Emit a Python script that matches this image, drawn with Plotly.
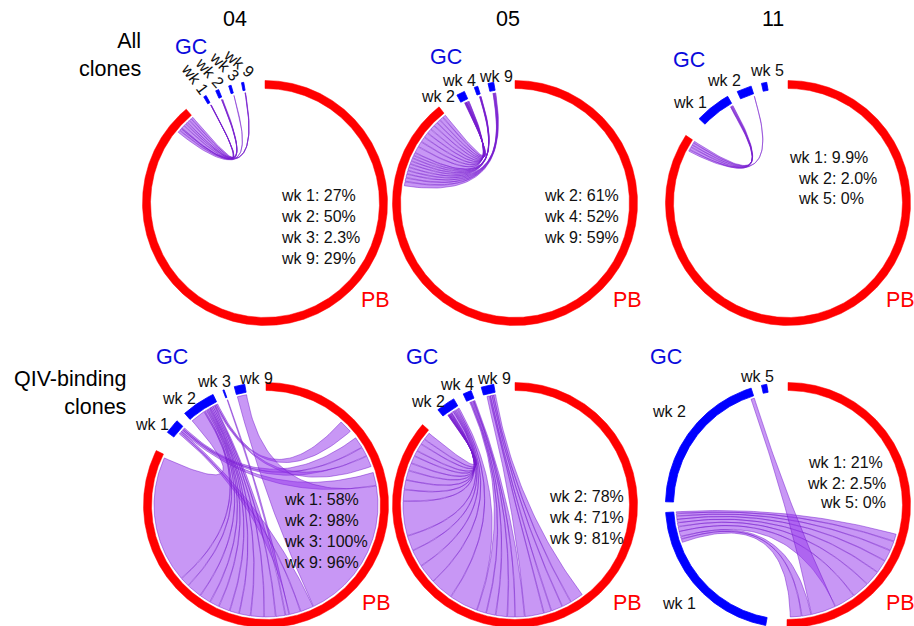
import numpy as np
import plotly.graph_objects as go

# ---------------- data ----------------
# Sector sizes: plasmablast (PB) clones and germinal-centre (GC) clones per week.
# *_pct: share of each GC week's clones that are also found among PB clones.
# *_link_week / *_link_pb: PB clones in circle order with their GC partner week
# ("" = PB clones with no GC partner).

all04_pb = 3008
all04_weeks = ["wk 1", "wk 2", "wk 3", "wk 9"]
all04_gc = [12, 14, 11, 10]
all04_pct = [27, 50, 2.3, 29]
all04_link_week = ["", "wk 9", "wk 9", "wk 3", "wk 2", "wk 2", "wk 2", "wk 1", "wk 1", "wk 1"]
all04_link_pb = [2905, 14, 10, 4, 16, 12, 10, 14, 12, 11]

all05_pb = 3217
all05_weeks = ["wk 2", "wk 4", "wk 9"]
all05_gc = [39, 17, 27]
all05_pct = [61, 52, 59]
all05_link_week = ["",
                   "wk 9", "wk 9", "wk 9", "wk 9", "wk 9",
                   "wk 4", "wk 4", "wk 4", "wk 4", "wk 4",
                   "wk 2", "wk 2", "wk 2", "wk 2", "wk 2",
                   "wk 2", "wk 2", "wk 2", "wk 2", "wk 2"]
all05_link_pb = [2787,
                 24, 20, 20, 18, 18,
                 18, 16, 16, 15, 15,
                 35, 30, 28, 27, 25, 25, 22, 20, 20, 18]

all11_pb = 1214
all11_weeks = ["wk 1", "wk 2", "wk 5"]
all11_gc = [68, 28, 10]
all11_pct = [9.9, 2.0, 0]
all11_link_week = ["", "wk 2", "wk 1", "wk 1", "wk 1", "wk 1"]
all11_link_pb = [1190, 4, 6, 5, 5, 4]

qiv04_pb = 2964
qiv04_weeks = ["wk 1", "wk 2", "wk 3", "wk 9"]
qiv04_gc = [70, 160, 6, 50]
qiv04_pct = [58, 98, 100, 96]
qiv04_link_week = ["", "wk 2", "", "wk 1", "wk 1", "wk 2", "", "wk 1",
                   "wk 9",
                   "wk 1", "wk 1", "wk 3",
                   "wk 2", "wk 2", "wk 2", "wk 2", "wk 2",
                   "wk 2", "wk 2", "wk 2", "wk 2", "wk 2",
                   "wk 2", ""]
qiv04_link_pb = [420, 70, 40, 60, 50, 60, 30, 70,
                 750,
                 70, 60, 20,
                 50, 60, 70, 60, 50,
                 60, 50, 60, 80, 50,
                 660, 14]

qiv05_pb = 3110
qiv05_weeks = ["wk 2", "wk 4", "wk 9"]
qiv05_gc = [90, 40, 60]
qiv05_pct = [78, 71, 81]
qiv05_link_week = ["",
                   "wk 9", "wk 9", "wk 9", "wk 9", "wk 9",
                   "wk 4", "wk 4", "wk 4", "wk 4", "wk 4",
                   "wk 2", "wk 2", "wk 2", "wk 2", "wk 2", "wk 2", "wk 2", "wk 2",
                   "wk 2", "wk 2", "wk 2", "wk 2", "wk 2", "wk 2", "wk 2", ""]
qiv05_link_pb = [1430,
                 70, 50, 60, 40, 100,
                 50, 40, 60, 50, 50,
                 150, 120, 100, 90, 80, 180, 60, 50,
                 50, 40, 40, 30, 40, 30, 40, 10]

qiv11_pb = 1805
qiv11_weeks = ["wk 1", "wk 2", "wk 5"]
qiv11_gc = [760, 710, 25]
qiv11_pct = [21, 2.5, 0]
qiv11_link_week = ["", "wk 1", "wk 1", "wk 1", "wk 1", "wk 1", "wk 1", "wk 1",
                   "wk 2", "wk 1", "wk 1", ""]
qiv11_link_pb = [1050, 40, 50, 60, 70, 80, 90, 110, 130, 50, 60, 15]

donors = ["04", "05", "11"]
row_titles = ["All<br>clones", "QIV-binding<br>clones"]

# ---------------- style / geometry ----------------
W, H = 914, 626
PX = 118.5                       # pixels per unit radius
BIG_GAP, SMALL_GAP = 10.0, 5.0   # degrees
R_IN, R_OUT, R_LINK = 0.966, 1.034, 0.945
RED, BLUE = "#FF0000", "#0000FF"
LINK_FILL = "rgba(150,55,236,0.52)"
LINK_EDGE = "rgba(115,25,205,0.8)"
FONT = "Liberation Sans, Arial, sans-serif"
TXT = "#111111"
SMALL, LARGE = 16, 21.5

panels = [
    dict(key="all04", c=(265, 203), pb=all04_pb, weeks=all04_weeks, gc=all04_gc,
         pct=all04_pct, lw=all04_link_week, lp=all04_link_pb),
    dict(key="all05", c=(515, 203), pb=all05_pb, weeks=all05_weeks, gc=all05_gc,
         pct=all05_pct, lw=all05_link_week, lp=all05_link_pb),
    dict(key="all11", c=(788, 203), pb=all11_pb, weeks=all11_weeks, gc=all11_gc,
         pct=all11_pct, lw=all11_link_week, lp=all11_link_pb),
    dict(key="qiv04", c=(266, 505), pb=qiv04_pb, weeks=qiv04_weeks, gc=qiv04_gc,
         pct=qiv04_pct, lw=qiv04_link_week, lp=qiv04_link_pb),
    dict(key="qiv05", c=(515, 505), pb=qiv05_pb, weeks=qiv05_weeks, gc=qiv05_gc,
         pct=qiv05_pct, lw=qiv05_link_week, lp=qiv05_link_pb),
    dict(key="qiv11", c=(788, 505), pb=qiv11_pb, weeks=qiv11_weeks, gc=qiv11_gc,
         pct=qiv11_pct, lw=qiv11_link_week, lp=qiv11_link_pb),
]

# text placement (pixel positions)
WEEK_LABEL_PX = {
    "all05": [(438, 97), (459, 81), (496, 77)],
    "all11": [(690, 103), (724, 81), (767, 71)],
    "qiv04": [(152, 424), (179, 398), (214, 381), (256, 378)],
    "qiv05": [(428, 401), (457, 384), (494, 378)],
    "qiv11": [(679, 603), (669, 411), (757, 376)],
}
PCT_LABEL_PX = {  # (x, xanchor, [(dx, y) per line])
    "all04": (279, "left", [(0, 195), (0, 216), (0, 237), (0, 258)]),
    "all05": (542, "left", [(0, 195), (0, 216), (0, 237)]),
    "all11": (787, "left", [(0, 157), (9, 178), (9, 199)]),
    "qiv04": (282, "left", [(0, 499), (0, 520), (0, 541), (0, 562)]),
    "qiv05": (547, "left", [(0, 496), (0, 517), (0, 538)]),
    "qiv11": (888, "right", [(-3, 462), (0, 483), (0, 503)]),
}
GC_LABEL_PX = {"all04": (191, 47), "all05": (446, 57), "all11": (689, 60),
               "qiv04": (172, 357), "qiv05": (422, 357), "qiv11": (666, 357)}
PB_LABEL_PX = {"all04": (375, 300), "all05": (627, 300), "all11": (900, 300),
               "qiv04": (376, 603), "qiv05": (627, 603), "qiv11": (900, 603)}
TITLE_PX = [(235, 19), (508, 19), (773, 19)]
ROW_PX = [(143, 55), (128, 393)]


def pct_text(v):
    if v == 0:
        return "0"
    return f"{v:.1f}" if v < 10 else f"{v:.0f}"


def layout_angles(pb, gc):
    span = 360 - 2 * BIG_GAP - (len(gc) - 1) * SMALL_GAP
    dpc = span / (pb + sum(gc))
    pb_arc = (90.0, 90.0 - pb * dpc)
    cur = pb_arc[1] - BIG_GAP
    gc_arcs = []
    for g in gc:
        gc_arcs.append((cur, cur - g * dpc))
        cur = cur - g * dpc - SMALL_GAP
    return dpc, pb_arc, gc_arcs


def arc(a0, a1, r):
    n = max(3, int(abs(a1 - a0) / 0.4) + 2)
    t = np.radians(np.linspace(a0, a1, n))
    return r * np.cos(t), r * np.sin(t)


def bezier(a0, a1, r, n=50):
    t = np.linspace(0, 1, n)
    p0 = r * np.array([np.cos(np.radians(a0)), np.sin(np.radians(a0))])
    p2 = r * np.array([np.cos(np.radians(a1)), np.sin(np.radians(a1))])
    # quadratic curve with its control point at the circle centre
    x = (1 - t) ** 2 * p0[0] + t ** 2 * p2[0]
    y = (1 - t) ** 2 * p0[1] + t ** 2 * p2[1]
    return x, y


def annular(a0, a1):
    xo, yo = arc(a0, a1, R_OUT)
    xi, yi = arc(a1, a0, R_IN)
    return np.r_[xo, xi, xo[:1]], np.r_[yo, yi, yo[:1]]


def ribbons(p):
    dpc, pb_arc, gc_arcs = layout_angles(p["pb"], p["gc"])
    weeks = p["weeks"]
    totals = {w: sum(v for lw, v in zip(p["lw"], p["lp"]) if lw == w) for w in weeks}
    cursor = {w: gc_arcs[i][1] for i, w in enumerate(weeks)}
    out = []
    a = pb_arc[0]
    for lw, v in zip(p["lw"], p["lp"]):
        a1, a2 = a, a - v * dpc
        a = a2
        if not lw:
            continue
        i = weeks.index(lw)
        share = p["gc"][i] * p["pct"][i] / 100.0 * v / totals[lw]
        g_lo = cursor[lw]
        g_hi = g_lo + share * dpc
        cursor[lw] = g_hi
        inset = min(0.15, 0.1 * (a1 - a2))
        out.append((a1 - inset, a2 + inset, g_hi, g_lo))
    return dpc, pb_arc, gc_arcs, out


def paper(x, y):
    return x / W, 1 - y / H


def label(x, y, text, size, color=TXT, xanchor="center", **kw):
    px_, py_ = paper(x, y)
    return dict(x=px_, y=py_, xref="paper", yref="paper", text=text, showarrow=False,
                xanchor=xanchor, yanchor="middle",
                font=dict(size=size, color=color, family=FONT), **kw)


fig = go.Figure()
annotations = []
layout_axes = {}

for k, p in enumerate(panels):
    cx, cy = p["c"]
    suffix = "" if k == 0 else str(k + 1)
    xa, ya = "x" + suffix, "y" + suffix
    x0, x1 = max(0, cx - 145), min(W, cx + 145)
    y0, y1 = max(0, cy - 130), min(H, cy + 130)
    layout_axes["xaxis" + suffix] = dict(domain=[x0 / W, x1 / W],
                                         range=[(x0 - cx) / PX, (x1 - cx) / PX],
                                         visible=False, fixedrange=True, anchor=ya)
    layout_axes["yaxis" + suffix] = dict(domain=[1 - y1 / H, 1 - y0 / H],
                                         range=[(cy - y1) / PX, (cy - y0) / PX],
                                         visible=False, fixedrange=True, anchor=xa)

    dpc, pb_arc, gc_arcs, links = ribbons(p)

    # shared-clone links
    for a1, a2, g_hi, g_lo in links:
        xs1, ys1 = arc(a1, a2, R_LINK)
        xs2, ys2 = bezier(a2, g_hi, R_LINK)
        xs3, ys3 = arc(g_hi, g_lo, R_LINK)
        xs4, ys4 = bezier(g_lo, a1, R_LINK)
        fig.add_trace(go.Scatter(x=np.r_[xs1, xs2, xs3, xs4], y=np.r_[ys1, ys2, ys3, ys4],
                                 xaxis=xa, yaxis=ya, mode="lines",
                                 fill="toself", fillcolor=LINK_FILL,
                                 line=dict(color=LINK_EDGE, width=0.6),
                                 hoverinfo="skip", showlegend=False))

    # PB sector
    xs, ys = annular(*pb_arc)
    fig.add_trace(go.Scatter(x=xs, y=ys, xaxis=xa, yaxis=ya, mode="lines",
                             fill="toself", fillcolor=RED,
                             line=dict(color=RED, width=0.5),
                             hoverinfo="skip", showlegend=False))
    # GC week sectors
    for g0, g1 in gc_arcs:
        xs, ys = annular(g0, g1)
        fig.add_trace(go.Scatter(x=xs, y=ys, xaxis=xa, yaxis=ya, mode="lines",
                                 fill="toself", fillcolor=BLUE,
                                 line=dict(color=BLUE, width=0.8),
                                 hoverinfo="skip", showlegend=False))

    # week labels (donor 04, all clones: radial text pointing at each GC tick)
    if p["key"] == "all04":
        for w, (g0, g1) in zip(p["weeks"], gc_arcs):
            mid = 0.5 * (g0 + g1)
            r = 142
            lx = cx + r * np.cos(np.radians(mid))
            ly = cy - r * np.sin(np.radians(mid))
            annotations.append(label(lx, ly, w, SMALL, textangle=-(0.7 * (180 - mid) + 12)))
    else:
        for w, (lx, ly) in zip(p["weeks"], WEEK_LABEL_PX[p["key"]]):
            annotations.append(label(lx, ly, w, SMALL))

    # shared-percentage labels
    bx, anchor, lines = PCT_LABEL_PX[p["key"]]
    for w, v, (dx, ly) in zip(p["weeks"], p["pct"], lines):
        annotations.append(label(bx + dx, ly, f"{w}: {pct_text(v)}%", SMALL, xanchor=anchor))

    annotations.append(label(*GC_LABEL_PX[p["key"]], "GC", LARGE, color="#0A0ADC"))
    annotations.append(label(*PB_LABEL_PX[p["key"]], "PB", LARGE, color=RED))

for d, (tx, ty) in zip(donors, TITLE_PX):
    annotations.append(label(tx, ty, d, LARGE, color="#000000"))

for t, (tx, ty) in zip(row_titles, ROW_PX):
    annotations.append(label(tx, ty, t, LARGE, color="#000000", xanchor="right", align="right"))

fig.update_layout(width=W, height=H, margin=dict(l=0, r=0, t=0, b=0),
                  paper_bgcolor="white", plot_bgcolor="rgba(0,0,0,0)",
                  showlegend=False, annotations=annotations, **layout_axes)

fig.write_html("out.html", config={"displayModeBar": False})
